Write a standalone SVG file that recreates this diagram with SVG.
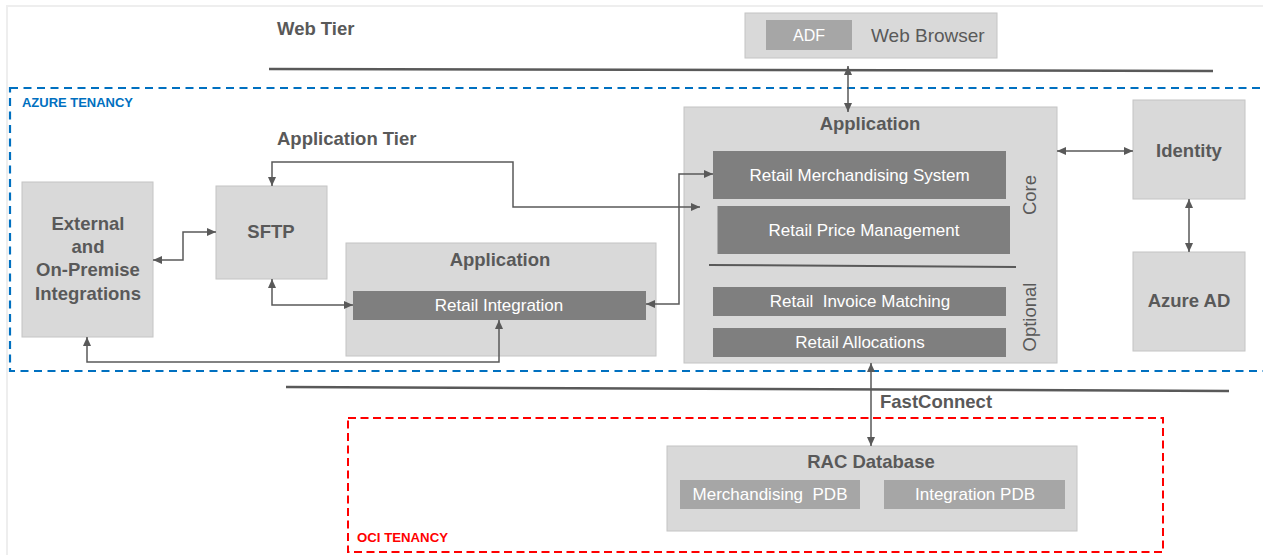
<svg xmlns="http://www.w3.org/2000/svg" width="1263" height="555" viewBox="0 0 1263 555">
<style>
  .box{fill:#d9d9d9;stroke:#c4c4c4;stroke-width:1}
  .dk{fill:#7f7f7f}
  .md{fill:#a6a6a6}
  .t{font-family:"Liberation Sans",Arial,sans-serif;fill:#595959}
  .b{font-weight:bold;font-size:18.5px}
  .w{font-family:"Liberation Sans",Arial,sans-serif;fill:#ffffff;font-size:17px;text-anchor:middle}
  .c{text-anchor:middle}
  .conn{fill:none;stroke:#595959;stroke-width:1.5;marker-start:url(#ah);marker-end:url(#ah)}
  .tier{fill:none;stroke:#595959;stroke-width:2.5}
</style>
<defs>
  <marker id="ah" markerUnits="userSpaceOnUse" markerWidth="10" markerHeight="10" viewBox="0 0 10 10" refX="9" refY="5" orient="auto-start-reverse">
    <path d="M0,1 L9,5 L0,9 Z" fill="#595959"/>
  </marker>
</defs>
<rect width="1263" height="555" fill="#ffffff"/>
<rect x="7" y="6" width="1270" height="560" fill="none" stroke="#eeeeee" stroke-width="2"/>

<g id="tenancies">
  <rect x="10" y="88" width="1265" height="283" fill="none" stroke="#0070c0" stroke-width="2.2" stroke-dasharray="8,5.5"/>
  <text x="22" y="107" font-family="Liberation Sans,Arial,sans-serif" font-weight="bold" font-size="13" fill="#0070c0" textLength="111" lengthAdjust="spacingAndGlyphs">AZURE TENANCY</text>
  <rect x="348" y="418" width="815" height="134" fill="none" stroke="#ff0000" stroke-width="2" stroke-dasharray="8,4.5"/>
  <text x="357" y="542" font-family="Liberation Sans,Arial,sans-serif" font-weight="bold" font-size="13" fill="#ff0000" textLength="91" lengthAdjust="spacingAndGlyphs">OCI TENANCY</text>
</g>

<g id="tiers">
  <text class="t b" x="277" y="35">Web Tier</text>
  <path class="tier" d="M269,69 L1213,71"/>
  <text class="t b" x="277" y="145">Application Tier</text>
  <path class="tier" d="M286,387 L1229,391"/>
  <text class="t b" x="880" y="408" font-size="18">FastConnect</text>
</g>

<g id="web-browser">
  <rect class="box" x="745" y="13" width="252" height="45"/>
  <rect class="md" x="766" y="20" width="86" height="30"/>
  <text x="809" y="41" font-family="Liberation Sans,Arial,sans-serif" font-size="16" fill="#ffffff" text-anchor="middle">ADF</text>
  <text class="t" x="871" y="42" font-size="19">Web Browser</text>
</g>

<g id="external">
  <rect class="box" x="22" y="182" width="131" height="155"/>
  <text class="t b c" x="88" y="230">External</text>
  <text class="t b c" x="88" y="253">and</text>
  <text class="t b c" x="88" y="276">On-Premise</text>
  <text class="t b c" x="88" y="300">Integrations</text>
</g>

<g id="sftp">
  <rect class="box" x="216" y="186" width="111" height="93"/>
  <text class="t b c" x="271" y="238" font-size="17.5">SFTP</text>
</g>

<g id="integration-app">
  <rect class="box" x="346" y="243" width="310" height="113"/>
  <text class="t b c" x="500" y="266">Application</text>
  <rect class="dk" x="353" y="291" width="293" height="29"/>
  <text class="w" x="499" y="311">Retail Integration</text>
</g>

<g id="main-app">
  <rect class="box" x="684" y="107" width="373" height="256"/>
  <text class="t b c" x="870" y="130">Application</text>
  <rect class="dk" x="713" y="151" width="293" height="48"/>
  <text class="w" x="859.5" y="181">Retail Merchandising System</text>
  <rect class="dk" x="717.5" y="206" width="292.5" height="48"/>
  <text class="w" x="864" y="236">Retail Price Management</text>
  <path d="M709,265 L1016,267" stroke="#595959" stroke-width="2"/>
  <rect class="dk" x="713" y="287" width="293" height="29"/>
  <text class="w" x="860" y="307" xml:space="preserve">Retail  Invoice Matching</text>
  <rect class="dk" x="713" y="328" width="293" height="29"/>
  <text class="w" x="860" y="348">Retail Allocations</text>
  <text class="t c" font-size="18.5" transform="translate(1036,195) rotate(-90)">Core</text>
  <text class="t c" font-size="18.5" transform="translate(1036,317) rotate(-90)">Optional</text>
</g>

<g id="identity">
  <rect class="box" x="1133" y="100" width="112" height="99"/>
  <text class="t b c" x="1189" y="157" font-size="19">Identity</text>
</g>

<g id="azure-ad">
  <rect class="box" x="1133" y="252" width="112" height="99"/>
  <text class="t b c" x="1189" y="307" font-size="18">Azure AD</text>
</g>

<g id="rac-database">
  <rect class="box" x="667" y="446" width="410" height="85"/>
  <text class="t b c" x="871" y="468" font-size="18">RAC Database</text>
  <rect class="md" x="680" y="480" width="180" height="29"/>
  <text class="w" x="770" y="500" xml:space="preserve">Merchandising  PDB</text>
  <rect class="md" x="884" y="480" width="181" height="29"/>
  <text class="w" x="975" y="500">Integration PDB</text>
</g>

<g id="connectors">
  <path class="conn" d="M848,66 V112"/>
  <path class="conn" d="M1057,151 H1133"/>
  <path class="conn" d="M1189,199 V252"/>
  <path class="conn" d="M272,186 V162 H513 V207 H700"/>
  <path class="conn" d="M153,260 H183 V232 H216"/>
  <path class="conn" d="M272,279 V305 H353"/>
  <path class="conn" d="M87,337 V362 H499 V320"/>
  <path class="conn" d="M646,304 H679 V174 H713"/>
  <path class="conn" d="M871,363 V446"/>
</g>
</svg>
